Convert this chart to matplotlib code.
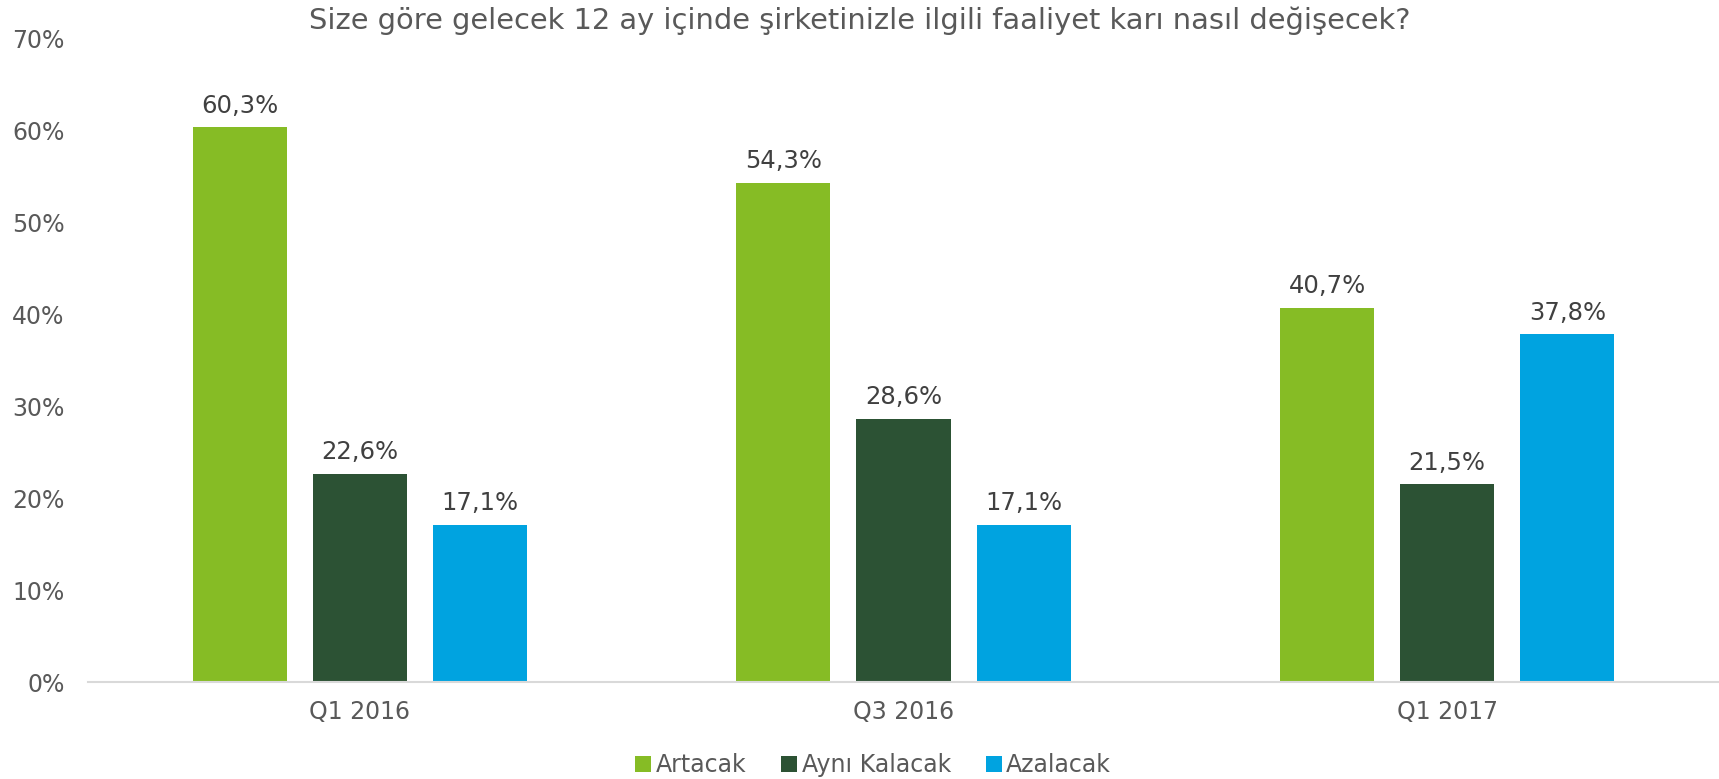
import matplotlib
matplotlib.use('Agg')
import matplotlib.pyplot as plt
import numpy

# Chart data
title = 'Size göre gelecek 12 ay içinde şirketinizle ilgili faaliyet karı nasıl değişecek?'
categories = ['Q1 2016', 'Q3 2016', 'Q1 2017']
series_names = ['Artacak', 'Aynı Kalacak', 'Azalacak']
artacak = [60.3, 54.3, 40.7]
ayni_kalacak = [22.6, 28.6, 21.5]
azalacak = [17.1, 17.1, 37.8]
yticks = [0, 10, 20, 30, 40, 50, 60, 70]

series = [artacak, ayni_kalacak, azalacak]
colors = ['#86BC25', '#2C5234', '#00A3E0']

plt.rcParams['font.family'] = ['DejaVu Sans']

fig = plt.figure(figsize = (17.19, 7.79), dpi = 100)
ax = fig.add_axes([0.0512, 0.1245, 0.9488, 0.8265])

x = numpy.arange(len(categories))
width = 0.173
offset = 0.221

handles = []
for i in range(len(series)):
    pos = x + (i - 1) * offset
    bars = ax.bar(pos, series[i], width = width, color = colors[i], label = series_names[i])
    handles.append(bars)
    for xp, v in zip(pos, series[i]):
        ax.annotate(('%.1f%%' % v).replace('.', ','), (xp, v), xytext = (0, 7),
                    textcoords = 'offset points', ha = 'center', va = 'bottom',
                    fontsize = 17.5, color = '#404040')

ax.set_xlim(-0.5, len(categories) - 0.5)
ax.set_ylim(0, 70)
ax.set_yticks(yticks)
ax.set_yticklabels([str(t) + '%' for t in yticks])
ax.set_xticks(x)
ax.set_xticklabels(categories)
ax.tick_params(axis = 'y', length = 0, labelsize = 17, labelcolor = '#595959', pad = 17)
ax.tick_params(axis = 'x', length = 0, labelsize = 17, labelcolor = '#595959', pad = 13)

for s in ['top', 'right', 'left']:
    ax.spines[s].set_visible(False)
ax.spines['bottom'].set_color('#D9D9D9')
ax.spines['bottom'].set_linewidth(1.5)

fig.text(0.5, 0.973, title, ha = 'center', va = 'center', fontsize = 20.8, color = '#595959')

fig.legend(handles = handles, labels = series_names, loc = 'center', bbox_to_anchor = (0.508, 0.018),
           ncol = 3, frameon = False, fontsize = 17, handlelength = 0.65, handleheight = 0.65,
           handletextpad = 0.2, columnspacing = 1.5, labelcolor = '#595959')

fig.savefig('out.png', dpi = 100)
